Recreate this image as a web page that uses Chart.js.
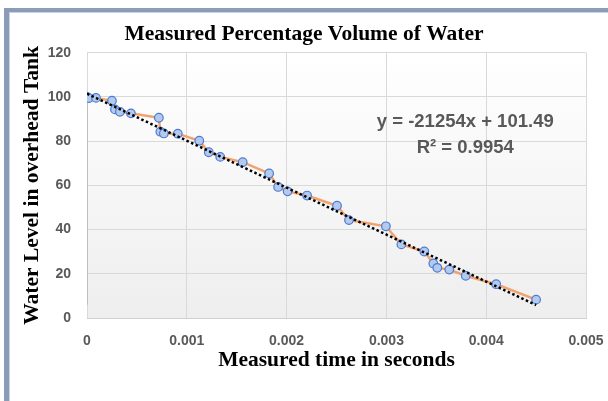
<!DOCTYPE html>
<html>
<head>
<meta charset="utf-8">
<script src="https://cdn.jsdelivr.net/npm/chart.js@4.4.0/dist/chart.umd.min.js"></script>
<style>
    html, body { margin: 0; padding: 0; background: #fff; }
    #wrap { position: relative; width: 608px; height: 401px; overflow: hidden; }
    #frame { position: absolute; left: 4px; top: 8px; width: 700px; height: 500px; box-sizing: border-box;
             border-left: 5px solid #8a9cb8; border-top: 4px solid #8a9cb8; pointer-events: none; }
    #frameInner { position: absolute; left: 9px; top: 12px; width: 700px; height: 500px; box-sizing: border-box;
                  border-left: 1px solid #c9d3e3; border-top: 1px solid #c9d3e3; pointer-events: none; }
</style>
</head>
<body>
<div id="wrap">
    <canvas id="waterChart" width="608" height="401"></canvas>
    <div id="frame"></div>
    <div id="frameInner"></div>
</div>
<script>
/* Measured percentage volume of water vs time */

const timeValues = [0, 0.00002, 0.00009, 0.00025, 0.00028, 0.00033, 0.00044, 0.00072, 0.000735, 0.00077,
    0.00091, 0.001125, 0.00122, 0.001335, 0.00156, 0.001825, 0.001915, 0.00201, 0.002205, 0.002505,
    0.002625, 0.002995, 0.00315, 0.00338, 0.00347, 0.00351, 0.00363, 0.003795, 0.0041, 0.0045];
const levelValues = [100, 99.5, 99.6, 98.3, 94.4, 93.3, 92.6, 90.6, 84.3, 83.5,
    83.4, 80.2, 75.0, 72.9, 70.5, 65.4, 59.3, 57.3, 55.4, 50.8,
    44.3, 41.5, 33.3, 30.1, 24.7, 22.7, 21.9, 19.1, 15.3, 8.3];

// Excel linear trendline as printed on the chart
const trendSlope = -21254;
const trendIntercept = 101.49;
const trendR2 = 0.9954;
const trendRange = [0, 0.0045];

// short grey stub drawn along the y axis in the original
const stubX = [0, 0];
const stubY = [100, 6];

const xTicks = [0, 0.001, 0.002, 0.003, 0.004, 0.005];
const yTicks = [0, 20, 40, 60, 80, 100, 120];

const tickFont = { family: 'Liberation Sans', size: 14, weight: 'bold' };
const serifFont = { family: 'Liberation Serif', size: 21.5, weight: 'bold' };

const plotBackground = {
    id: 'plotBackground',
    beforeDraw(chart) {
        const { ctx, chartArea: a } = chart;
        const g = ctx.createLinearGradient(0, a.top, 0, a.bottom);
        g.addColorStop(0, '#ffffff');
        g.addColorStop(1, '#eeeeee');
        ctx.save();
        ctx.fillStyle = g;
        ctx.fillRect(a.left, a.top, a.right - a.left, a.bottom - a.top);
        ctx.restore();
    }
};

const equationLabel = {
    id: 'equationLabel',
    afterDatasetsDraw(chart) {
        const { ctx } = chart;
        const x = chart.scales.x.getPixelForValue(0.00379);
        const y1 = chart.scales.y.getPixelForValue(88.6);
        const y2 = chart.scales.y.getPixelForValue(76.8);
        ctx.save();
        ctx.fillStyle = '#595959';
        ctx.font = 'bold 18.5px "Liberation Sans"';
        ctx.textAlign = 'center';
        ctx.textBaseline = 'middle';
        ctx.fillText('y = ' + trendSlope + 'x + ' + trendIntercept, x, y1);
        ctx.fillText('R² = ' + trendR2, x, y2);
        ctx.restore();
    }
};

document.addEventListener('DOMContentLoaded', () => {
    const points = timeValues.map((t, i) => ({ x: t, y: levelValues[i] }));
    const trend = trendRange.map(t => ({ x: t, y: trendSlope * t + trendIntercept }));
    const stub = stubX.map((t, i) => ({ x: t, y: stubY[i] }));

    new Chart(document.getElementById('waterChart'), {
        type: 'scatter',
        data: {
            datasets: [
                { label: 'Linear trend', data: trend, showLine: true, borderColor: '#000', borderWidth: 2.5,
                  borderDash: [2.5, 2.5], pointRadius: 0 },
                { label: 'Measured', data: points, showLine: true, borderColor: '#f2a26c', borderWidth: 2.5,
                  pointRadius: 4.3, pointBackgroundColor: '#b4c9ee', pointBorderColor: '#4d7bd0', pointBorderWidth: 1.2 },
                { label: 'stub', data: stub, showLine: true, borderColor: '#bfbfbf', borderWidth: 2, pointRadius: 0 }
            ]
        },
        options: {
            responsive: false, animation: false,
            layout: { padding: { left: 22, right: 22, top: 0, bottom: 0 } },
            plugins: {
                legend: { display: false }, tooltip: { enabled: false },
                title: { display: true, text: 'Measured Percentage Volume of Water', color: '#000',
                         font: serifFont, padding: { top: 22, bottom: 5 } }
            },
            scales: {
                x: {
                    type: 'linear', min: 0, max: 0.005,
                    afterBuildTicks: s => { s.ticks = xTicks.map(v => ({ value: v })); },
                    afterFit: s => { s.height = 83; s.paddingLeft = 0; s.paddingRight = 0; },
                    grid: { color: '#d9d9d9', drawTicks: false },
                    border: { display: true, color: '#d0d0d0' },
                    ticks: { color: '#595959', font: tickFont, padding: 15, maxRotation: 0 },
                    title: { display: true, text: 'Measured time in seconds', color: '#000', font: serifFont,
                             padding: { top: 0, bottom: 28 } }
                },
                y: {
                    type: 'linear', min: 0, max: 120,
                    afterBuildTicks: s => { s.ticks = yTicks.map(v => ({ value: v })); },
                    afterFit: s => { s.width = 65; },
                    grid: { color: '#d9d9d9', drawTicks: false },
                    border: { display: false },
                    ticks: { color: '#595959', font: tickFont, padding: 16 },
                    title: { display: true, text: 'Water Level in overhead Tank', color: '#000', font: serifFont,
                             padding: { top: -2, bottom: 0 } }
                }
            }
        },
        plugins: [plotBackground, equationLabel]
    });
});
</script>
</body>
</html>
